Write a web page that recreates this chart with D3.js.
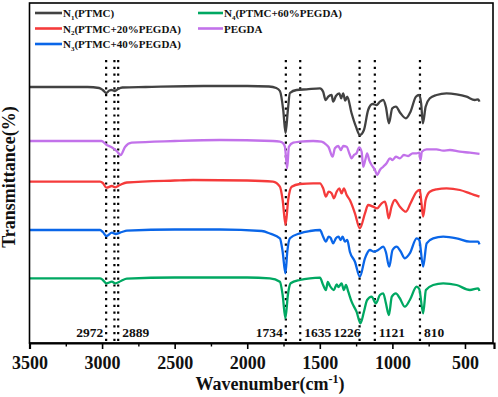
<!DOCTYPE html>
<html><head><meta charset="utf-8">
<script src="https://cdn.jsdelivr.net/npm/d3@7/dist/d3.min.js"></script>
<style>body{margin:0;background:#fff}svg{display:block}</style>
</head><body><div id="chart"></div>
<script>
// ---------- DATA ----------
const seriesNames = ["N1(PTMC)","N2(PTMC+20%PEGDA)","N3(PTMC+40%PEGDA)","N4(PTMC+60%PEGDA)","PEGDA"];
const seriesColors = ["#424242","#f53b3b","#0a66e8","#00a862","#c272ea"];
// [wavenumber, transmittance (a.u., stacked offset)]
const n1 = [[3500,256],[3100,256],[3020,255],[2995,253],[2972,250],[2950,252.5],[2935,253],[2912,252],[2890,254],[2860,255.5],[2700,256],[2300,257],[2000,257],[1850,256.5],[1800,255],[1775,252],[1752,233],[1736,210],[1720,233],[1706,250],[1660,253],[1591,253.7],[1499,254.7],[1477,251.3],[1460,243],[1442,246.3],[1419,248],[1408,241.3],[1389,247],[1366,249.7],[1353,244.7],[1339,249.7],[1325,242.3],[1311,246.3],[1281,229.7],[1251,216.3],[1224,208],[1196,213],[1167,233],[1137,239],[1109,238],[1086,241.3],[1063,243],[1045,236.3],[1024,219.7],[1001,234.7],[976,236.3],[944,229.7],[907,224.7],[875,231.3],[838,246.3],[815,248],[802,239.7],[790,219.7],[771,236.3],[742,244.7],[696,248],[627,249.7],[558,248.7],[489,246.3],[432,243],[409,243.7],[400,241.3]];
const n2 = [[3500,161.3],[3014,161.3],[2995,160],[2970,155.3],[2932,157],[2910,155.7],[2877,158],[2829,160.5],[2500,162.5],[2374,163],[2000,162.5],[1823,161.3],[1775,156.3],[1756,143],[1736,118],[1718,143],[1694,156.3],[1637,159],[1546,159.7],[1499,159.7],[1477,154.7],[1458,146.3],[1439,151.3],[1419,149.7],[1403,144.7],[1384,151.3],[1366,154.7],[1350,149.7],[1334,154.7],[1315,148],[1293,143],[1258,129.7],[1224,114.7],[1189,129.7],[1167,138],[1132,136.3],[1105,134.7],[1074,139.7],[1052,141.3],[1040,136],[1026,124.7],[1006,136.3],[983,143],[948,136.3],[907,131.3],[875,139.7],[833,151.3],[811,153],[800,140],[788,126.3],[771,143],[742,151.3],[696,153.7],[627,154.7],[535,153],[466,149.7],[400,146.3]];
const n3 = [[3500,113],[3014,113],[2995,111],[2970,107],[2932,110.3],[2910,109],[2863,111],[2829,112.3],[2500,113.5],[2188,113.5],[1900,112],[1844,109.5],[1775,104.7],[1756,91.3],[1737,69.7],[1724,91.3],[1706,104.7],[1637,109.7],[1568,112],[1499,113],[1477,106.3],[1458,101.3],[1439,106.3],[1425,105],[1408,99.7],[1389,104.7],[1371,106.3],[1357,103],[1343,106.3],[1327,101.3],[1311,103],[1293,91.3],[1258,81.3],[1224,66.3],[1189,84.7],[1155,93],[1127,91.3],[1098,93],[1063,96.3],[1045,91],[1022,76.3],[999,93],[971,96.3],[945,92],[914,84.7],[880,89.7],[833,104.7],[815,103],[788,76.3],[764,99.7],[719,104.7],[650,106.3],[558,104.7],[466,101.3],[409,101.3],[400,98.7]];
const n4 = [[3500,64.7],[3014,64.7],[2995,63],[2970,59.7],[2932,61.3],[2910,59.7],[2870,62],[2829,64.3],[2500,65.5],[2000,65.5],[1844,64.7],[1775,61.3],[1756,48],[1737,24.7],[1720,48],[1701,59.7],[1637,63],[1568,64.7],[1499,65.3],[1477,58],[1458,53],[1445,61],[1430,57],[1403,53],[1384,58.7],[1371,56],[1350,59.7],[1334,53],[1320,58],[1304,51.3],[1281,41.3],[1247,31.3],[1220,19.7],[1196,31.3],[1174,43],[1143,46.3],[1114,39.7],[1086,48],[1063,49.7],[1045,40],[1024,28],[1004,46.3],[976,49.7],[950,45],[914,36.3],[880,43],[833,56.3],[815,54],[788,29.7],[769,53],[719,58],[650,59.7],[558,58],[466,53],[409,54.7],[400,52]];
const pegda = [[3500,202],[3003,202],[2968,198],[2934,195.7],[2900,192],[2872,188],[2842,196],[2796,200.3],[2500,202],[2188,203],[1823,202],[1775,201.3],[1752,199.7],[1740,196],[1725,174.7],[1713,196.3],[1683,200.3],[1637,201.3],[1546,202],[1488,201.3],[1453,198],[1440,196],[1412,186.3],[1396,194.7],[1373,197],[1355,193],[1339,197],[1315,196.3],[1297,189.7],[1281,184.7],[1265,188],[1247,189.7],[1229,195.7],[1212,191.3],[1201,176.3],[1187,183],[1174,189.7],[1160,183],[1143,178],[1120,173],[1105,168],[1086,173],[1063,176.3],[1040,179.7],[1017,184.7],[999,183],[976,186.3],[948,184.7],[921,188],[891,187],[861,189.7],[833,189.7],[815,190.3],[806,183],[797,191.3],[764,193.7],[696,193.7],[650,192.3],[604,193],[535,191.3],[466,190.3],[400,189]];
const peakLines = [2972, 2915, 2889, 1734, 1635, 1226, 1121, 810];
const peakLabels = [
  {wn:2972, text:"2972", side:"left"},
  {wn:2889, text:"2889", side:"right"},
  {wn:1734, text:"1734", side:"left"},
  {wn:1635, text:"1635", side:"right"},
  {wn:1226, text:"1226", side:"left"},
  {wn:1121, text:"1121", side:"right"},
  {wn:810,  text:"810",  side:"right"}
];
const xTicks = [3500,3000,2500,2000,1500,1000,500];
const xMinorTicks = [3250,2750,2250,1750,1250,750];

// ---------- CHART ----------
const W = 498, H = 397;
const serif = "'Liberation Serif','Times New Roman',Times,serif";
const svg = d3.select("#chart").append("svg").attr("width",W).attr("height",H)
  .style("font-family", serif);

const x = d3.scaleLinear().domain([3500, 300]).range([29.5, 494]);
const y = d3.scaleLinear().domain([0, 340]).range([343, 3]);
const pLeft = x.range()[0], pRight = x.range()[1] - 1, pTop = y.range()[1], pBottom = y.range()[0];

svg.append("clipPath").attr("id","clip").append("rect")
  .attr("x",pLeft).attr("y",pTop).attr("width",pRight-pLeft).attr("height",pBottom-pTop);

// dotted reference lines
svg.append("g").selectAll("line").data(peakLines).join("line")
  .attr("x1", d => x(d)).attr("x2", d => x(d))
  .attr("y1", y(283)).attr("y2", pBottom)
  .attr("stroke","#000").attr("stroke-width",2.2).attr("stroke-dasharray","2.2,4.6");

// spectra
const line = d3.line().x(d => x(d[0])).y(d => y(d[1])).curve(d3.curveMonotoneX);
const data = [n1, n2, n3, n4, pegda];
svg.append("g").attr("clip-path","url(#clip)").selectAll("path").data(data).join("path")
  .attr("d", line).attr("fill","none")
  .attr("stroke", (d,i) => seriesColors[i]).attr("stroke-width",2.3)
  .attr("stroke-linejoin","round");

// peak labels
svg.append("g").selectAll("text").data(peakLabels).join("text")
  .attr("x", d => d.side === "left" ? x(d.wn) - (d.wn === 1226 ? -1 : 3) : x(d.wn) + 4)
  .attr("y", 337)
  .attr("text-anchor", d => d.side === "left" ? "end" : "start")
  .attr("font-size", 13.5).attr("font-weight","bold").attr("fill","#111")
  .text(d => d.text);

// frame
svg.append("rect").attr("x",pLeft).attr("y",pTop).attr("width",pRight-pLeft).attr("height",pBottom-pTop)
  .attr("fill","none").attr("stroke","#000").attr("stroke-width",1.6);

// x axis
const xAxis = svg.append("g").attr("transform",`translate(0,${pBottom})`)
  .call(d3.axisBottom(x).tickValues(xTicks).tickSize(6).tickFormat(d3.format("d")));
xAxis.select(".domain").attr("stroke-width",2.2);
xAxis.selectAll(".tick line").attr("stroke-width",1.6);
xAxis.selectAll("text").attr("font-size",18).attr("font-weight","bold").attr("font-family",serif)
  .attr("fill","#111").attr("dy","0.95em");
svg.append("g").attr("transform",`translate(0,${pBottom})`)
  .call(d3.axisBottom(x).tickValues(xMinorTicks).tickSize(3.5).tickFormat(""))
  .call(g => g.select(".domain").remove())
  .selectAll(".tick line").attr("stroke-width",1.4);

// axis titles
const xt = svg.append("text").attr("x", 270).attr("y", 390).attr("text-anchor","middle")
  .attr("font-size",18).attr("font-weight","bold").attr("fill","#111");
xt.append("tspan").text("Wavenumber(cm");
xt.append("tspan").attr("font-size",12).attr("dy",-7).text("-1");
xt.append("tspan").attr("dy",7).text(")");

svg.append("text").attr("transform","translate(15,177) rotate(-90)").attr("text-anchor","middle")
  .attr("font-size",18).attr("font-weight","bold").attr("fill","#111").text("Transmittance(%)");

// legend
const legendItems = [
  {i:0, col:0, row:0, base:"N", sub:"1", rest:"(PTMC)"},
  {i:1, col:0, row:1, base:"N", sub:"2", rest:"(PTMC+20%PEGDA)"},
  {i:2, col:0, row:2, base:"N", sub:"3", rest:"(PTMC+40%PEGDA)"},
  {i:3, col:1, row:0, base:"N", sub:"4", rest:"(PTMC+60%PEGDA)"},
  {i:4, col:1, row:1, base:"PEGDA", sub:"", rest:""}
];
const colX = [35, 198], colLen = [27, 25], rowY = [13, 28.5, 44];
const lg = svg.append("g").selectAll("g").data(legendItems).join("g")
  .attr("transform", d => `translate(${colX[d.col]},${rowY[d.row]})`);
lg.append("line").attr("x1",0).attr("x2",d => colLen[d.col]).attr("y1",0).attr("y2",0)
  .attr("stroke", d => seriesColors[d.i]).attr("stroke-width",2.6);
const lt = lg.append("text").attr("x", d => colLen[d.col] + 1).attr("y", 4)
  .attr("font-size",11).attr("font-weight","bold").attr("fill","#111");
lt.append("tspan").text(d => d.base);
lt.append("tspan").attr("font-size",7).attr("dy",2.5).text(d => d.sub);
lt.append("tspan").attr("dy",-2.5).text(d => d.rest);
</script></body></html>
